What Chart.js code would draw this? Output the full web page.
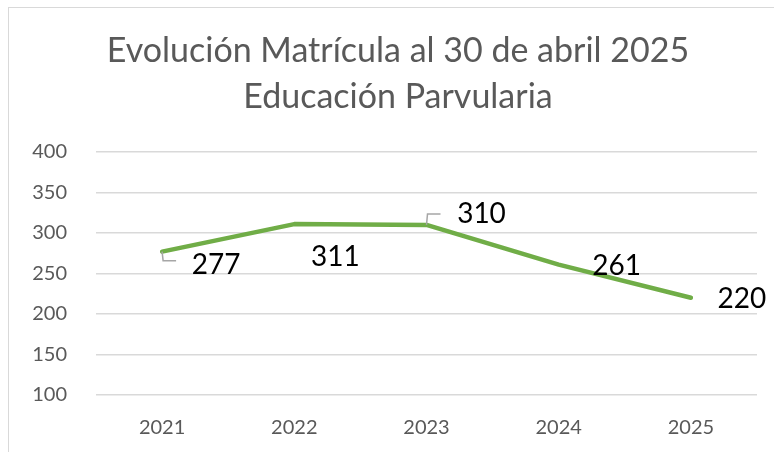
<!DOCTYPE html>
<html>
<head>
<meta charset="utf-8">
<script src="https://cdn.jsdelivr.net/npm/chart.js@4"></script>
<style>
  html, body { margin: 0; padding: 0; background: #fff; }
  body { width: 774px; height: 452px; position: relative; overflow: hidden; }
  #frame { position: absolute; left: 8px; top: 7px; width: 800px; height: 500px; border: 1px solid #d9d9d9; box-sizing: border-box; }
  #wrap { position: absolute; left: 0; top: 0; width: 774px; height: 452px; }
</style>
</head>
<body>
<div id="frame"></div>
<div id="wrap"><canvas id="chart"></canvas></div>
<script>
// ---------- Data ----------
const years = ['2021', '2022', '2023', '2024', '2025'];
const matricula = [277, 311, 310, 261, 220];
const yTicks = [100, 150, 200, 250, 300, 350, 400];
const titleLines = ['Evolución Matrícula al 30 de abril 2025', 'Educación Parvularia'];

// label placement (pixel offsets from each point) and leader lines
const labelOffsets = [[54, 13], [41, 33], [55, -11], [58, 1], [51, 1]];
const leaderIdx = [0, 2];

const FONT = 'Lato, "Open Sans", sans-serif';

// ---------- Title (centred on the frame, not the plot) ----------
const titleDraw = {
  id: 'titleDraw',
  afterDraw(chart) {
    const ctx = chart.ctx;
    ctx.save();
    ctx.fillStyle = '#595959';
    ctx.font = '34px ' + FONT;
    ctx.textAlign = 'center';
    ctx.textBaseline = 'alphabetic';
    ctx.fillText(titleLines[0], 398, 62);
    ctx.fillText(titleLines[1], 398, 108);
    ctx.restore();
  }
};

// ---------- Data labels with leader lines ----------
const dataLabels = {
  id: 'dataLabels',
  afterDatasetsDraw(chart) {
    const ctx = chart.ctx;
    const meta = chart.getDatasetMeta(0);
    ctx.save();
    meta.data.forEach((pt, i) => {
      const [dx, dy] = labelOffsets[i];
      const lx = pt.x + dx, ly = pt.y + dy;
      if (leaderIdx.includes(i)) {
        const endY = dy > 0 ? pt.y + 9 : pt.y - 11;
        ctx.strokeStyle = '#a6a6a6';
        ctx.lineWidth = 1.5;
        ctx.beginPath();
        ctx.moveTo(pt.x, pt.y);
        ctx.lineTo(pt.x + 1, endY);
        ctx.lineTo(pt.x + 14, endY);
        ctx.stroke();
      }
      ctx.fillStyle = '#000';
      ctx.font = '28px ' + FONT;
      ctx.textAlign = 'center';
      ctx.textBaseline = 'middle';
      ctx.fillText(String(matricula[i]), lx, ly);
    });
    ctx.restore();
  }
};

// ---------- Chart ----------
new Chart(document.getElementById('chart'), {
  type: 'line',
  data: {
    labels: years,
    datasets: [{
      data: matricula,
      borderColor: '#70ad47',
      borderWidth: 4.5,
      pointRadius: 0,
      tension: 0,
      borderCapStyle: 'round',
      borderJoinStyle: 'round'
    }]
  },
  options: {
    responsive: true,
    maintainAspectRatio: false,
    animation: false,
    layout: { padding: { left: 0, right: 17, top: 152, bottom: 0 } },
    plugins: {
      legend: { display: false },
      tooltip: { enabled: false },
      title: { display: false }
    },
    scales: {
      x: {
        offset: true,
        grid: { display: false },
        border: { display: false },
        ticks: { color: '#595959', font: { family: FONT, size: 20 }, padding: 13 },
        afterFit(scale) { scale.height = 57; }
      },
      y: {
        min: 100,
        max: 400,
        afterBuildTicks(scale) { scale.ticks = yTicks.map(v => ({ value: v })); },
        grid: { color: '#d9d9d9', lineWidth: 1.5, drawTicks: false },
        border: { display: false },
        ticks: { color: '#595959', font: { family: FONT, size: 20 }, padding: 29 },
        afterFit(scale) { scale.width = 96; }
      }
    }
  },
  plugins: [dataLabels, titleDraw]
});
</script>
</body>
</html>
